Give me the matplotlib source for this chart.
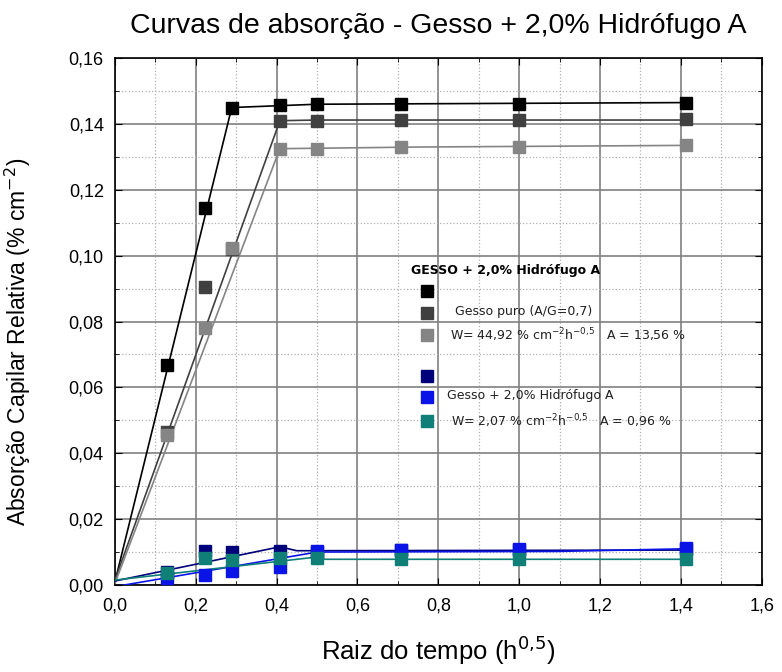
import matplotlib.pyplot as plt

plt.rcParams['font.family'] = ['Liberation Sans', 'DejaVu Sans']

# raiz do tempo (h^0.5)
t = [0.129, 0.224, 0.289, 0.408, 0.5, 0.707, 1.0, 1.414]

# gesso puro
preto = [0.0667, 0.1145, 0.1450, 0.1458, 0.1460, 0.1460, 0.1460, 0.1465]
cinza_esc = [0.0465, 0.0905, 0.1020, 0.1410, 0.1410, 0.1412, 0.1412, 0.1415]
cinza_cla = [0.0455, 0.0780, 0.1022, 0.1325, 0.1325, 0.1330, 0.1330, 0.1335]

# gesso + 2,0% hidrofugo A
azul_esc = [0.0040, 0.0104, 0.0100, 0.0104, 0.0100, 0.0105, 0.0107, 0.0108]
azul = [0.0020, 0.0030, 0.0042, 0.0054, 0.0102, 0.0107, 0.0110, 0.0112]
verde = [0.0037, 0.0082, 0.0075, 0.0082, 0.0082, 0.0080, 0.0080, 0.0080]

# retas ajustadas (x, y)
fit_preto = ([0, 0.289, 0.5, 1.414], [0.0010, 0.1450, 0.1460, 0.1465])
fit_cinza_esc = ([0, 0.408, 0.5, 1.414], [0.0015, 0.1410, 0.1412, 0.1412])
fit_cinza_cla = ([0, 0.408, 0.75, 1.414], [0.0005, 0.1325, 0.1330, 0.1335])
fit_azul_esc = ([0, 0.408, 0.45, 1.414], [0.0012, 0.0116, 0.0104, 0.0106])
fit_azul = ([0, 0.5, 1.1, 1.414], [-0.0005, 0.0100, 0.0102, 0.0110])
fit_verde = ([0, 0.5, 0.52, 1.414], [0.0015, 0.0085, 0.0078, 0.0078])

series = [
    (preto, fit_preto, '#000000'),
    (cinza_esc, fit_cinza_esc, '#404040'),
    (cinza_cla, fit_cinza_cla, '#858585'),
    (azul_esc, fit_azul_esc, '#00007a'),
    (azul, fit_azul, '#0a14e6'),
    (verde, fit_verde, '#0f7f78'),
]

fig = plt.figure(figsize=(7.82, 6.72), dpi=100)
ax = fig.add_axes([0.147, 0.1295, 0.827, 0.784])

for y, fit, c in series:
    ax.plot(fit[0], fit[1], color=c, lw=1.2, zorder=3)
    ax.plot(t, y, 's', color=c, ms=8, zorder=4, linestyle='none')

ax.set_xlim(0, 1.6)
ax.set_ylim(0, 0.16)
ax.set_xticks([i * 0.2 for i in range(9)])
ax.set_yticks([i * 0.02 for i in range(9)])
ax.set_xticks([0.1 + i * 0.2 for i in range(8)], minor=True)
ax.set_yticks([0.01 + i * 0.02 for i in range(8)], minor=True)
ax.set_xticklabels([f"{i * 0.2:.1f}".replace('.', ',') for i in range(9)])
ax.set_yticklabels([f"{i * 0.02:.2f}".replace('.', ',') for i in range(9)])
ax.grid(which='major', color='#808080', lw=1.2, zorder=0)
ax.grid(which='minor', color='#b0b0b0', lw=0.9, ls=':', zorder=0)
ax.tick_params(which='both', direction='in', top=True, right=True, labelsize=13)
ax.tick_params(which='major', length=5)
ax.tick_params(which='minor', length=3)
ax.tick_params(axis='x', which='major', pad=9)
ax.tick_params(axis='y', which='major', pad=8)
for s in ax.spines.values():
    s.set_linewidth(1.2)

ax.set_xlabel("Raiz do tempo (h$^{0{,}5}$)", fontsize=18.5, labelpad=14)
ax.set_ylabel("Absorção Capilar Relativa (% cm$^{-2}$)", fontsize=16.5)
ax.yaxis.set_label_coords(-0.126, 0.461)
ax.set_title("Curvas de absorção - Gesso + 2,0% Hidrófugo A", fontsize=20.5, pad=18)

# legenda manual
leg = dict(fontsize=9, va='center', color='#202020', family=['DejaVu Sans'])
ax.text(0.732, 0.0956, "GESSO + 2,0% Hidrófugo A", fontsize=9, fontweight='bold',
        va='center', family=['DejaVu Sans'])
for yy, (_, _, c) in zip([0.0893, 0.0826, 0.0759, 0.0635, 0.0571, 0.0498], series):
    ax.plot([0.772], [yy], 's', color=c, ms=8, zorder=5)
ax.text(0.841, 0.0832, "Gesso puro (A/G=0,7)", **leg)
ax.text(0.828, 0.0759, "W= 44,92 % cm$^{-2}$h$^{-0{,}5}$   A = 13,56 %", **leg)
ax.text(0.821, 0.0574, "Gesso + 2,0% Hidrófugo A", **leg)
ax.text(0.831, 0.0498, "W= 2,07 % cm$^{-2}$h$^{-0{,}5}$   A = 0,96 %", **leg)

fig.savefig("out.png", dpi=100)
